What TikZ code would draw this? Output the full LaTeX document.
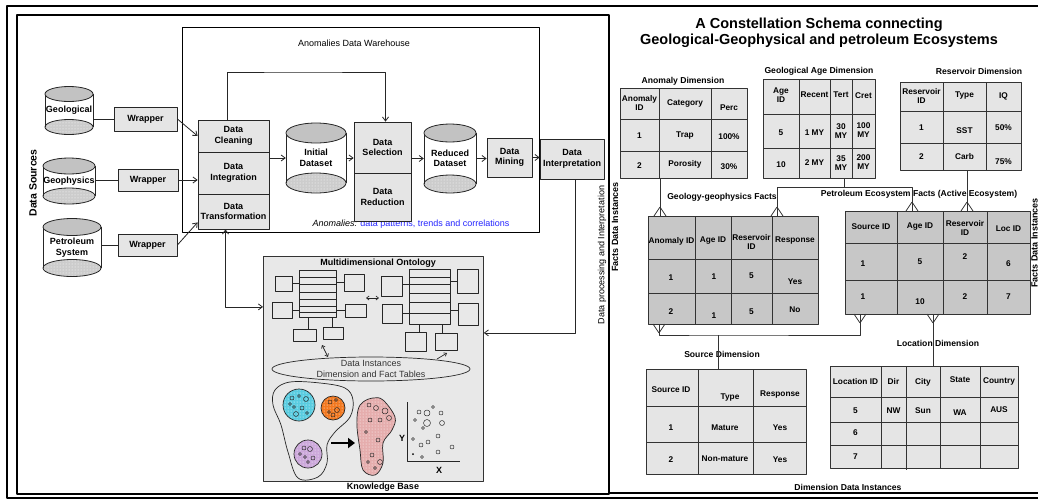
\documentclass[tikz,border=0pt]{standalone}
\usepackage{fontspec}
\setmainfont{Liberation Sans}
\usepackage{tikz}
\usetikzlibrary{patterns}
\usetikzlibrary{shapes.geometric}
\usetikzlibrary{arrows.meta}
\definecolor{Panel}{rgb}{0.91,0.91,0.91}
\definecolor{Cell}{rgb}{0.9,0.9,0.9}
\definecolor{FactCell}{rgb}{0.78,0.78,0.78}
\definecolor{CylTop}{rgb}{0.76,0.76,0.76}
\definecolor{CylBase}{rgb}{0.8,0.8,0.8}
\definecolor{ClusterA}{rgb}{0.35,0.8,0.88}
\definecolor{ClusterB}{rgb}{0.95,0.47,0.12}
\definecolor{ClusterC}{rgb}{0.8,0.66,0.86}
\definecolor{Merged}{rgb}{0.9,0.68,0.68}
\definecolor{Note}{rgb}{0.15,0.15,1}

% database drum: name, cx, top, bottom, rx, ry, label
\newcommand{\dbcyl}[7]{%
  \fill[white] (#2-#5,#3) rectangle (#2+#5,#4);
  \fill[CylBase] (#2,#4) ellipse [x radius=#5, y radius=#6];
  \fill[pattern=dots, pattern color=white] (#2,#4) ellipse [x radius=#5, y radius=#6];
  \draw[cylline] (#2,#4) ellipse [x radius=#5, y radius=#6];
  \draw[cylline] (#2-#5,#3) -- (#2-#5,#4) (#2+#5,#3) -- (#2+#5,#4);
  \draw[cylline, fill=CylTop] (#2,#3) ellipse [x radius=#5, y radius=#6];
  \node[datalbl, minimum width={2*#5pt}, minimum height={(#4-#3)*1pt}] (#1) at (#2,{(#3+#4)/2}) {#7};
}
% many-end of a relation: point on the table edge, 1 = top edge, -1 = bottom edge
\newcommand{\crowfoot}[2]{\draw[tabline] (#1) ++(0,-9*#2) -- ++(-6,9*#2) (#1) ++(0,-9*#2) -- ++(6,9*#2);}

\begin{document}
\begin{tikzpicture}[x=1pt, y=-1pt, line join=round,
    >={Straight Barb[length=4pt,width=6pt]},
    datalbl/.style={font=\fontsize{9}{10.5}\selectfont\bfseries, align=center, inner sep=0pt},
    plaintxt/.style={font=\fontsize{9}{10.5}\selectfont, align=center, inner sep=0pt},
    procbox/.style={draw=black!85, line width=0.8pt, fill=Cell, font=\fontsize{9}{10.5}\selectfont\bfseries, align=center, inner sep=0pt},
    cylline/.style={draw=black!85, line width=0.8pt},
    tabline/.style={draw=black!80, line width=0.8pt},
    tabbox/.style={tabline, anchor=north west, inner sep=0pt},
    dimtab/.style={tabbox, fill=Cell},
    facttab/.style={tabbox, fill=FactCell},
    celltxt/.style={font=\fontsize{8.3}{9.5}\selectfont\bfseries, align=center, inner sep=0pt},
    tabtitle/.style={font=\fontsize{8.6}{10}\selectfont\bfseries, inner sep=0pt},
    ontoline/.style={draw=black!85, line width=0.7pt}]
	\useasboundingbox (0,0) rectangle (1038,501);
	\fill[white] (0,0) rectangle (1038,501);

	% frames
	\draw[line width=1.6pt] (7,6) rectangle (1050,498);
	\draw[line width=1.6pt] (17,15) rectangle (609,494);
	\draw[line width=2.4pt] (609,15) -- (609,494);
	\draw[line width=1.6pt] (609,493) -- (1050,493);

	\node[datalbl, font=\fontsize{10.5}{12}\selectfont\bfseries, rotate=90] (srclbl) at (33,183) {Data Sources};

	% warehouse
	\node[draw, line width=0.8pt, minimum width=357pt, minimum height=205pt, anchor=north west, inner sep=0pt] (whouse) at (182,27) {};
	\node[plaintxt] (whtitle) at (354,43) {Anomalies Data Warehouse};
	\node[plaintxt] (anomnote) at (411,224) {\textit{Anomalies:} \textcolor{Note}{data patterns, trends and correlations}};

	\dbcyl{geol}{69}{94}{127}{24}{7.5}{Geological}
	\dbcyl{geoph}{69}{166}{196}{26}{8}{Geophysics}
	\dbcyl{petro}{72}{227}{268}{29}{8.5}{Petroleum\\System}
	\dbcyl{init}{316}{133}{183}{30}{10}{Initial\\Dataset}
	\dbcyl{reduced}{450}{133}{184}{26}{9}{Reduced\\Dataset}

	\node[procbox, minimum width=63pt, minimum height=24pt] (wrap1) at (145.5,119) {Wrapper};
	\node[procbox, minimum width=60pt, minimum height=22pt] (wrap2) at (148,180) {Wrapper};
	\node[procbox, minimum width=59pt, minimum height=22pt] (wrap3) at (147.5,245) {Wrapper};

	\node[procbox, minimum width=71pt, minimum height=32pt] (clean) at (233.5,136) {Data\\Cleaning};
	\node[procbox, minimum width=71pt, minimum height=42pt] (integ) at (233.5,173) {Data\\Integration};
	\node[procbox, minimum width=71pt, minimum height=35pt] (transf) at (233.5,211.5) {Data\\Transformation};
	\node[procbox, minimum width=57pt, minimum height=51pt] (select) at (382.5,147.5) {Data\\Selection};
	\node[procbox, minimum width=57pt, minimum height=48pt] (reduce) at (382.5,197) {Data\\Reduction};
	\node[procbox, minimum width=45pt, minimum height=39pt] (mining) at (509.5,157.5) {Data\\Mining};
	\node[procbox, minimum width=64pt, minimum height=40pt] (interp) at (572,159) {Data\\Interpretation};

	\draw[cylline] (geol.east |- wrap1.west) -- (wrap1.west);
	\draw[cylline] (geoph.east |- wrap2.west) -- (wrap2.west);
	\draw[cylline] (petro.east |- wrap3.west) -- (wrap3.west);
	\draw[->, cylline] (wrap1.east) -- (clean.west);
	\draw[->, cylline] (wrap2.east) -- (wrap2.east -| integ.west);
	\draw[->, cylline] (wrap3.east) -- ([yshift=7pt]transf.south west);
	\draw[->, cylline] (integ.east |- init.west) -- (init.west);
	\draw[->, cylline] (init.east) -- (init.east -| select.west);
	\draw[->, cylline] (select.east |- reduced.west) -- (reduced.west);
	\draw[->, cylline] (reduced.east) -- (reduced.east -| mining.west);
	\draw[->, cylline] (mining.east) -- (mining.east -| interp.west);
	\coordinate (fb) at (300,72);
	\draw[->, cylline] ([xshift=-6pt]clean.north) |- (fb) -| ([xshift=3pt]select.north);

	% knowledge base
	\node[draw=black!80, fill=Panel, line width=0.8pt, minimum width=220pt, minimum height=225pt, anchor=north west, inner sep=0pt] (onto) at (263,256) {};
	\node[datalbl] (ontotitle) at (378,263) {Multidimensional Ontology};
	\node[datalbl] (kbase) at (383,487) {Knowledge Base};
	\draw[->, cylline] ([xshift=3pt]interp.south) |- ([yshift=36pt]onto.east);
	\draw[<->, cylline] ([xshift=-8pt]transf.south) |- ([yshift=62pt]onto.west);

	\draw[ontoline] (299,270) rectangle (336,317);
	\draw[ontoline] (299,277) -- (336,277) (299,284) -- (336,284) (299,292) -- (336,292) (299,299) -- (336,299) (299,306) -- (336,306) (299,312) -- (336,312);
	\draw[ontoline] (275,276) rectangle (292,291) (272,302) rectangle (292,318) (344,274) rectangle (364,291) (345,304) rectangle (366,317) (293,329) rectangle (316,341) (323,327) rectangle (343,339);
	\draw[ontoline] (292,283) -- (299,283) (292,310) -- (299,310) (336,282) -- (344,282) (336,310) -- (345,310) (308,317) -- (308,329) (332,317) -- (332,327);
	\draw[ontoline] (409,269) rectangle (450,324);
	\draw[ontoline] (409,277) -- (450,277) (409,284) -- (450,284) (409,293) -- (450,293) (409,302) -- (450,302) (409,313) -- (450,313);
	\draw[ontoline] (381,276) rectangle (402,296) (382,304) rectangle (402,323) (457,269) rectangle (478,293) (458,303) rectangle (478,325) (405,332) rectangle (426,351) (435,333) rectangle (457,350);
	\draw[ontoline] (402,284) -- (409,284) (402,313) -- (409,313) (450,281) -- (457,281) (450,310) -- (458,310) (419,324) -- (419,332) (442,324) -- (442,333);
	\draw[<->, ontoline, >={Straight Barb[length=2.5pt,width=4pt]}] (366,298) -- (379,298);
	\draw[<->, ontoline, >={Straight Barb[length=2.5pt,width=4pt]}] (322,345) -- (328,357);
	\draw[->, ontoline, >={Straight Barb[length=2.5pt,width=4pt]}] (437,359) -- (447,353);

	\draw[ontoline] (371,369) ellipse [x radius=99, y radius=12];
	\node[plaintxt, text=black!80, font=\fontsize{9}{11.5}\selectfont] (inst) at (371,369) {Data Instances\\Dimension and Fact Tables};

	% clusters
	\draw[ontoline] plot[smooth cycle, tension=0.6] coordinates {(275,390) (290,382) (320,383) (345,388) (353,400) (350,417) (335,432) (327,445) (327,463) (318,477) (298,478) (288,452) (281,425) (273,405)};
	\fill[ClusterA] (299,405) circle (16);
	\fill[pattern=dots, pattern color=white] (299,405) circle (16);
	\draw[ontoline] (299,405) circle (16);
	\fill[ClusterB] (333,408) circle (12);
	\fill[pattern=dots, pattern color=white] (333,408) circle (12);
	\draw[ontoline] (333,408) circle (12);
	\fill[ClusterC] (308,454) circle (14);
	\fill[pattern=dots, pattern color=white] (308,454) circle (14);
	\draw[ontoline] (308,454) circle (14);
	\draw[ontoline, line width=0.5pt] (292,398) circle (2) (299,396) circle (1.5) (306,399) circle (2.5) (294,407) circle (1.5) (302,408) circle (2) (296,414) circle (2.5) (307,413) circle (1.5) (290,404) circle (1.5);
	\draw[ontoline, line width=0.5pt] (330,402) circle (2) (336,400) circle (1.5) (337,410) circle (2.5) (329,412) circle (1.5) (333,415) circle (2);
	\draw[ontoline, line width=0.5pt] (304,448) circle (2) (310,449) circle (2.5) (305,457) circle (1.5) (313,458) circle (2) (308,462) circle (1.5) (300,454) circle (1.5);
	\draw[-{Triangle[length=7pt,width=10pt]}, line width=2.6pt] (331,443) -- (355,443);
	\fill[Merged] plot[smooth cycle, tension=0.6] coordinates {(373,398) (383,400) (395,417) (392,430) (383,443) (383,463) (375,475) (363,470) (360,450) (357,427) (358,410) (363,402)};
	\fill[pattern=dots, pattern color=white] plot[smooth cycle, tension=0.6] coordinates {(373,398) (383,400) (395,417) (392,430) (383,443) (383,463) (375,475) (363,470) (360,450) (357,427) (358,410) (363,402)};
	\draw[ontoline] plot[smooth cycle, tension=0.6] coordinates {(373,398) (383,400) (395,417) (392,430) (383,443) (383,463) (375,475) (363,470) (360,450) (357,427) (358,410) (363,402)};
	\draw[ontoline, line width=0.5pt] (369,405) circle (2) (376,408) circle (2.5) (385,411) circle (3) (389,418) circle (2.5) (380,420) circle (2) (370,420) circle (2) (366,432) circle (1.5) (378,440) circle (2) (372,455) circle (2) (380,462) circle (2.5) (375,468) circle (1.5) (368,462) circle (1.5);

	% scatter
	\draw[ontoline] (407,402) -- (407,461) -- (460,461);
	\node[datalbl] (yaxis) at (402,438) {Y};
	\node[datalbl] (xaxis) at (439,470) {X};
	\draw[ontoline, line width=0.5pt] (419,412) circle (2) (427,413) circle (3) (433,407) circle (1.5) (441,413) circle (2) (415,420) circle (1.5) (427,423) circle (3.5) (423,428) circle (1.5) (442,423) circle (2.5) (413,439) circle (1.5) (421,445) circle (2) (428,442) circle (2) (438,436) circle (2) (452,447) circle (2) (438,452) circle (2) (422,457) circle (1.5);
	\fill (413,454) circle (1);

	\node[plaintxt, rotate=90] (dpi) at (602,255) {Data processing and Interpretation};
	\node[datalbl, rotate=90] (factsl) at (615,227) {Facts Data Instances};
	\node[datalbl, rotate=90] (factsr) at (1034.5,243) {Facts Data Instances};

	% constellation schema
	\node[align=center, inner sep=0pt, font=\fontsize{14.5}{16}\selectfont\bfseries] (schema) at (819,33) {A Constellation Schema connecting\\Geological-Geophysical and petroleum Ecosystems};

	\node[tabtitle] (adtitle) at (683,81) {Anomaly Dimension};
	\node[dimtab, minimum width=127pt, minimum height=90pt] (anomdim) at (620,88) {};
	\draw[tabline] (659,88) -- (659,178) (711,88) -- (711,178) (620,119) -- (747,119) (620,151) -- (747,151);
	\node[celltxt] (ad-h1) at (639.5,103) {Anomaly\\ID};
	\node[celltxt] (ad-h2) at (685,103) {Category};
	\node[celltxt] (ad-h3) at (729,108) {Perc};
	\node[celltxt] (ad-11) at (639.5,136) {1};
	\node[celltxt] (ad-12) at (685,136) {Trap};
	\node[celltxt] (ad-13) at (729,137) {100\%};
	\node[celltxt] (ad-21) at (639.5,166) {2};
	\node[celltxt] (ad-22) at (685,164) {Porosity};
	\node[celltxt] (ad-23) at (729,167) {30\%};

	\node[tabtitle] (agtitle) at (819,71) {Geological Age Dimension};
	\node[dimtab, minimum width=112pt, minimum height=99pt] (agedim) at (763,79) {};
	\draw[tabline] (799,79) -- (799,178) (830,79) -- (830,178) (852,79) -- (852,178) (763,114) -- (875,114) (763,148) -- (875,148);
	\node[celltxt] (ag-h1) at (781,95) {Age\\ID};
	\node[celltxt] (ag-h2) at (814.5,95) {Recent};
	\node[celltxt] (ag-h3) at (841,95) {Tert};
	\node[celltxt] (ag-h4) at (863.5,96) {Cret};
	\node[celltxt] (ag-11) at (781,133) {5};
	\node[celltxt] (ag-12) at (814.5,133) {1 MY};
	\node[celltxt] (ag-13) at (841,131) {30\\MY};
	\node[celltxt] (ag-14) at (863.5,130) {100\\MY};
	\node[celltxt] (ag-21) at (781,165) {10};
	\node[celltxt] (ag-22) at (814.5,163) {2 MY};
	\node[celltxt] (ag-23) at (841,163) {35\\MY};
	\node[celltxt] (ag-24) at (863.5,162) {200\\MY};

	\node[tabtitle] (rdtitle) at (979,71) {Reservoir Dimension};
	\node[dimtab, minimum width=121pt, minimum height=88pt] (resdim) at (900,82) {};
	\draw[tabline] (943,82) -- (943,170) (986,82) -- (986,170) (900,111) -- (1021,111) (900,143) -- (1021,143);
	\node[celltxt] (rd-h1) at (921.5,96) {Reservoir\\ID};
	\node[celltxt] (rd-h2) at (964.5,96) {Type};
	\node[celltxt] (rd-h3) at (1003.5,96) {IQ};
	\node[celltxt] (rd-11) at (921.5,128) {1};
	\node[celltxt] (rd-12) at (964.5,131) {SST};
	\node[celltxt] (rd-13) at (1003.5,128) {50\%};
	\node[celltxt] (rd-21) at (921.5,157) {2};
	\node[celltxt] (rd-22) at (964.5,157) {Carb};
	\node[celltxt] (rd-23) at (1003.5,162) {75\%};

	\node[tabtitle] (gftitle) at (722,197) {Geology-geophysics Facts};
	\node[facttab, minimum width=170pt, minimum height=108pt] (ggfacts) at (648,216) {};
	\draw[tabline] (695,216) -- (695,324) (731,216) -- (731,324) (772,216) -- (772,324) (648,259) -- (818,259) (648,293) -- (818,293);
	\node[celltxt] (gf-h1) at (671.5,241) {Anomaly ID};
	\node[celltxt] (gf-h2) at (713,241) {Age ID};
	\node[celltxt] (gf-h3) at (751.5,242) {Reservoir\\ID};
	\node[celltxt] (gf-h4) at (795,241) {Response};
	\node[celltxt] (gf-11) at (671,278) {1};
	\node[celltxt] (gf-12) at (714,277) {1};
	\node[celltxt] (gf-13) at (751.5,276) {5};
	\node[celltxt] (gf-14) at (795,282) {Yes};
	\node[celltxt] (gf-21) at (671,312) {2};
	\node[celltxt] (gf-22) at (714,316) {1};
	\node[celltxt] (gf-23) at (751.5,312) {5};
	\node[celltxt] (gf-24) at (795,310) {No};

	\node[tabtitle] (pftitle) at (919,194) {Petroleum Ecosystem Facts (Active Ecosystem)};
	\node[facttab, minimum width=185pt, minimum height=103pt] (petfacts) at (845,211) {};
	\draw[tabline] (897,211) -- (897,314) (943,211) -- (943,314) (987,211) -- (987,314) (845,243) -- (1030,243) (845,280) -- (1030,280);
	\node[celltxt] (pf-h1) at (871,227) {Source ID};
	\node[celltxt] (pf-h2) at (920,227) {Age ID};
	\node[celltxt] (pf-h3) at (965,228) {Reservoir\\ID};
	\node[celltxt] (pf-h4) at (1008.5,229) {Loc ID};
	\node[celltxt] (pf-11) at (863,264) {1};
	\node[celltxt] (pf-12) at (920,262) {5};
	\node[celltxt] (pf-13) at (965,257) {2};
	\node[celltxt] (pf-14) at (1008.5,264) {6};
	\node[celltxt] (pf-21) at (863,297) {1};
	\node[celltxt] (pf-22) at (920,302) {10};
	\node[celltxt] (pf-23) at (965,297) {2};
	\node[celltxt] (pf-24) at (1008.5,297) {7};

	\node[tabtitle] (sdtitle) at (722,354) {Source Dimension};
	\node[dimtab, minimum width=160pt, minimum height=105pt] (srcdim) at (646,369) {};
	\draw[tabline] (698,369) -- (698,474) (753,369) -- (753,474) (646,406) -- (806,406) (646,442) -- (806,442);
	\node[celltxt] (sd-h1) at (671,390) {Source ID};
	\node[celltxt] (sd-h2) at (730,397) {Type};
	\node[celltxt] (sd-h3) at (780,394) {Response};
	\node[celltxt] (sd-11) at (671,428) {1};
	\node[celltxt] (sd-12) at (725,428) {Mature};
	\node[celltxt] (sd-13) at (780,428) {Yes};
	\node[celltxt] (sd-21) at (671,460) {2};
	\node[celltxt] (sd-22) at (725,459) {Non-mature};
	\node[celltxt] (sd-23) at (780,460) {Yes};

	\node[tabtitle] (ldtitle) at (938,343) {Location Dimension};
	\node[dimtab, minimum width=188pt, minimum height=102pt] (locdim) at (830,366) {};
	\draw[tabline] (881,366) -- (881,468) (906,366) -- (906,470) (940,366) -- (940,468) (980,366) -- (980,468) (830,397) -- (1018,397) (830,422) -- (1018,422) (830,445) -- (1018,445);
	\node[celltxt] (ld-h1) at (855.5,382) {Location ID};
	\node[celltxt] (ld-h2) at (893.5,381) {Dir};
	\node[celltxt] (ld-h3) at (923,382) {City};
	\node[celltxt] (ld-h4) at (960,380) {State};
	\node[celltxt] (ld-h5) at (999,381) {Country};
	\node[celltxt] (ld-11) at (855.5,411) {5};
	\node[celltxt] (ld-12) at (893.5,411) {NW};
	\node[celltxt] (ld-13) at (923,411) {Sun};
	\node[celltxt] (ld-14) at (960,413) {WA};
	\node[celltxt] (ld-15) at (999,410) {AUS};
	\node[celltxt] (ld-21) at (855.5,433) {6};
	\node[celltxt] (ld-31) at (855.5,457) {7};

	\node[tabtitle] (ddtitle) at (848,487) {Dimension Data Instances};

	% relations
	\coordinate (gg-a) at (660,216);
	\coordinate (gg-b) at (777,216);
	\coordinate (gg-c) at (659,324);
	\coordinate (pf-a) at (912,211);
	\coordinate (pf-b) at (967,211);
	\coordinate (pf-c) at (860,314);
	\coordinate (pf-d) at (933,314);
	\coordinate (age-j) at (844,187);
	\coordinate (src-j) at (718,335);
	\draw[tabline] (gg-a |- anomdim.south) -- (gg-a);
	\draw[tabline] (age-j |- agedim.south) -- (age-j);
	\draw[tabline] (gg-b) -- (gg-b |- age-j) -- (pf-a |- age-j) -- (pf-a);
	\draw[tabline] (pf-b |- resdim.south) -- (pf-b);
	\draw[tabline] (gg-c) |- (src-j) -| (pf-c);
	\draw[tabline] (src-j) -- (src-j |- srcdim.north);
	\draw[tabline] (pf-d) -- (pf-d |- locdim.north);
	\crowfoot{gg-a}{1}
	\crowfoot{gg-b}{1}
	\crowfoot{pf-a}{1}
	\crowfoot{pf-b}{1}
	\crowfoot{gg-c}{-1}
	\crowfoot{pf-c}{-1}
	\crowfoot{pf-d}{-1}
\end{tikzpicture}
\end{document}
